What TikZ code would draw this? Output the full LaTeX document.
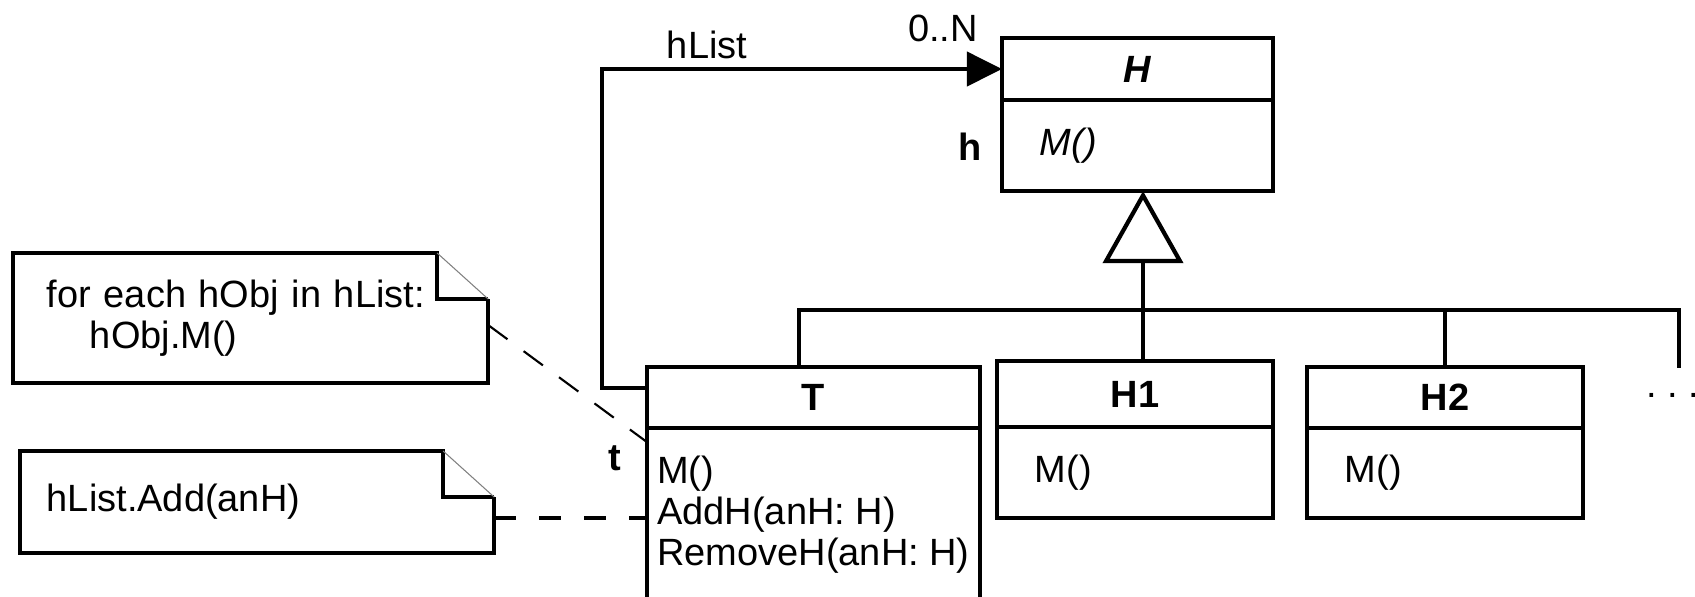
\documentclass[tikz,border=0pt]{standalone}
\usepackage{fontspec}
\setmainfont{Liberation Sans}
\usetikzlibrary{arrows.meta}

\begin{document}
\fontsize{10.8}{11.7}\selectfont
\begin{tikzpicture}[
  x=0.01cm, y=-0.01cm,
  clshead/.style={rectangle, draw, line width=1.2pt, outer sep=0pt, minimum width=#1,
                  minimum height=0.62cm, font=\bfseries},
  clsbody/.style={rectangle, draw, line width=1.2pt, outer sep=0pt, text width=#1,
                  inner xsep=0.38cm, minimum height=0.91cm, align=left},
  note/.style={rectangle, inner ysep=0pt, outer sep=0pt, align=left},
  noteline/.style={line width=1.2pt},
  fold/.style={line width=0.3pt, gray},
  assoc/.style={line width=1.2pt},
  navig/.style={line width=1.2pt, -{Triangle[length=0.35cm, width=0.34cm]}},
  inherit/.style={line width=1.2pt, -{Triangle[open, length=0.72cm, width=0.8cm]}},
  anchorthin/.style={line width=0.6pt, dash pattern=on 0.24cm off 0.2cm},
  anchorthick/.style={line width=1.2pt, dash pattern=on 0.22cm off 0.23cm},
  lab/.style={inner sep=0pt},
  role/.style={inner sep=0pt, font=\bfseries},
]
\useasboundingbox (0,0) rectangle (1695,596);
% ---- abstract class H
\node[clshead=2.71cm, font=\bfseries\itshape] (hhead) at (1137.5,69) {H};
\node[clsbody=1.95cm, anchor=north, font=\itshape] (hbody) at (hhead.south) {M()};
% ---- class T (holds the list)
\node[clshead=3.33cm, minimum height=0.61cm] (thead) at (813.5,397.5) {T};
\node[rectangle, draw, line width=1.2pt, outer sep=0pt, anchor=north, minimum width=3.33cm,
      inner xsep=0.1cm, inner ysep=0.28cm, align=left] (tbody) at (thead.south)
  {M()\\AddH(anH: H)\\RemoveH(anH: H)};
% ---- leaf classes H1, H2
\node[clshead=2.76cm, minimum height=0.66cm] (h1head) at (1135,394) {H1};
\node[clsbody=2.0cm, anchor=north] (h1body) at (h1head.south) {M()};
\node[clshead=2.76cm, minimum height=0.61cm] (h2head) at (1445,397.5) {H2};
\node[clsbody=2.0cm, minimum height=0.90cm, anchor=north] (h2body) at (h2head.south) {M()};
\node[lab, anchor=base] (more) at (1673,397) {.\ .\ .};
% ---- notes with folded corner
\node[note, text width=4.07cm, inner xsep=0.34cm, minimum height=1.30cm] (loopnote) at (250.5,318)
  {for each hObj in hList:\\\hspace*{0.43cm}hObj.M()};
\node[note, text width=4.20cm, inner xsep=0.27cm, minimum height=1.02cm] (addnote) at (257,502)
  {hList.Add(anH)};
\foreach \n in {loopnote, addnote} {
  \draw[noteline] ([yshift=-0.46cm]\n.north east) -- (\n.south east) -- (\n.south west)
    -- (\n.north west) -- ([xshift=-0.51cm]\n.north east) |- ([yshift=-0.46cm]\n.north east);
  \draw[fold] ([xshift=-0.51cm]\n.north east) -- ([yshift=-0.46cm]\n.north east);
}
% ---- generalization bus
\coordinate (junction) at (1143,310);
\coordinate (busleft) at (799,310);
\coordinate (busright) at (1679,310);
\coordinate (busend) at (1679,368);
\draw[assoc] (busleft |- thead.north) -- (busleft) -- (busright) -- (busend);
\draw[assoc] (h2head.north) -- (h2head.north |- busleft);
\draw[assoc] (junction |- h1head.north) -- (junction);
\draw[inherit] (junction) -- (junction |- hbody.south);
% ---- hList association T -> H
\draw[navig] ([yshift=0.095cm]thead.west) -- ++(-45,0) |- (hhead.west);
\node[lab] (listlabel) at (707,45) {hList};
\node[lab] (multlabel) at (943,28) {0..N};
\node[role] (hrole) at (970,147) {h};
\node[role] (trole) at (615,458) {t};
% ---- note anchors
\coordinate (addpt) at ([yshift=-0.16cm]addnote.east);
\draw[anchorthin] ([yshift=-0.07cm]loopnote.east) -- ([yshift=-0.14cm]tbody.north west);
\draw[anchorthick] (addpt) -- (addpt -| tbody.west);
\end{tikzpicture}
\end{document}
